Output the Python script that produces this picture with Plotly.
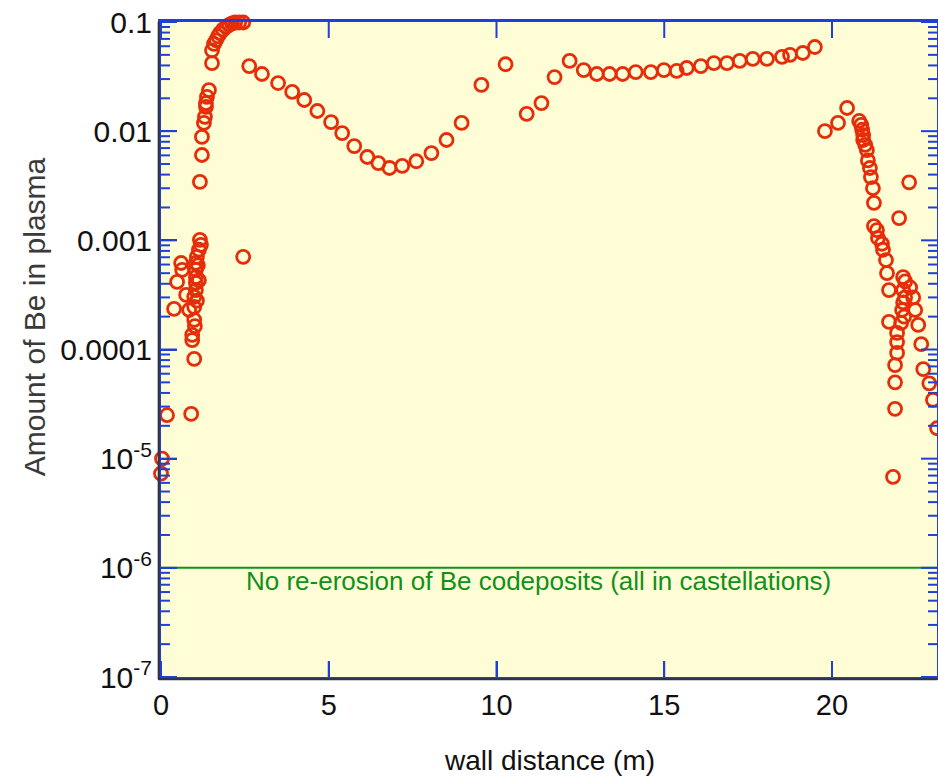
import math
import plotly.graph_objects as go

# Be amount reaching the plasma along the poloidal wall contour
wall_distance = [
    0.00, 0.03, 0.18, 0.39, 0.48, 0.60, 0.63, 0.75, 0.84, 0.93, 0.93, 0.99, 0.90,
    0.99, 0.99, 0.99, 1.04, 1.04, 1.04, 1.04, 1.04, 1.07, 1.13, 1.19, 1.16, 1.01,
    1.10, 1.13, 1.07,
    1.16, 1.22, 1.22, 1.28, 1.31, 1.34, 1.34, 1.37, 1.43, 1.52,
    1.52, 1.58, 1.64, 1.70, 1.76, 1.85, 1.94, 2.03, 2.12, 2.21, 2.33, 2.45,
    2.45,
    2.63, 3.01, 3.49, 3.91, 4.27, 4.66, 5.07, 5.40, 5.76, 6.15, 6.48, 6.81, 7.19,
    7.61, 8.06, 8.51, 8.96, 9.55, 10.27, 10.90, 11.34, 11.73, 12.18, 12.60, 12.99,
    13.37, 13.76, 14.15, 14.60, 14.99, 15.37, 15.67, 16.09, 16.48, 16.87, 17.25,
    17.64, 18.06, 18.51, 18.75, 19.13, 19.49,
    19.79, 20.18, 20.45, 20.81, 20.87, 20.90, 20.93, 20.93, 20.99, 21.04, 21.07,
    21.13, 21.16, 21.22, 21.25, 21.25, 21.34, 21.37, 21.49, 21.52, 21.61, 21.64,
    21.70, 21.70, 21.94, 21.94, 21.94, 21.88, 21.88, 21.88, 21.82,
    22.30, 22.00,
    22.12, 22.18, 22.12, 22.18, 22.12, 22.09, 22.15, 22.06,
    22.33, 22.42, 22.48, 22.57, 22.66, 22.72, 22.90, 23.01, 23.13,
]
be_amount = [
    7.3e-6, 1.0e-5, 2.5e-5, 2.36e-4, 4.16e-4, 6.2e-4, 5.36e-4, 3.16e-4, 2.3e-4,
    1.36e-4, 1.22e-4, 8.2e-5, 2.57e-5,
    1.87e-4, 2.45e-4, 3.03e-4, 3.5e-4, 4.07e-4, 4.6e-4, 5.36e-4, 6.2e-4, 7.05e-4,
    8.2e-4, 9.1e-4, 1.01e-3, 1.64e-4,
    5.9e-4, 4.3e-4, 2.8e-4,
    3.43e-3, 6.05e-3, 8.85e-3, 1.19e-2, 1.35e-2, 1.67e-2, 1.81e-2, 2.06e-2, 2.38e-2, 4.2e-2,
    5.5e-2, 6.3e-2, 6.8e-2, 7.4e-2, 7.9e-2, 8.5e-2, 9.0e-2, 9.4e-2, 9.7e-2, 9.9e-2, 9.9e-2, 9.9e-2,
    7.05e-4,
    3.95e-2, 3.34e-2, 2.76e-2, 2.29e-2, 1.93e-2, 1.53e-2, 1.21e-2, 9.6e-3, 7.3e-3,
    5.8e-3, 5.1e-3, 4.6e-3, 4.8e-3,
    5.3e-3, 6.3e-3, 8.3e-3, 1.19e-2, 2.65e-2, 4.1e-2, 1.44e-2, 1.81e-2, 3.13e-2,
    4.4e-2, 3.63e-2, 3.34e-2,
    3.34e-2, 3.34e-2, 3.48e-2, 3.48e-2, 3.63e-2, 3.56e-2, 3.79e-2, 3.95e-2, 4.2e-2,
    4.2e-2, 4.4e-2,
    4.6e-2, 4.6e-2, 4.8e-2, 5.0e-2, 5.2e-2, 5.9e-2,
    1.0e-2, 1.19e-2, 1.63e-2, 1.24e-2, 1.14e-2, 1.03e-2, 9.2e-3, 8.3e-3, 7.5e-3,
    6.7e-3, 5.4e-3,
    4.6e-3, 3.8e-3, 3.0e-3, 2.2e-3, 1.35e-3, 1.24e-3, 1.05e-3, 9.3e-4, 8.2e-4,
    6.6e-4, 5.0e-4,
    3.5e-4, 1.79e-4, 1.42e-4, 1.17e-4, 9.3e-5, 7.2e-5, 5.0e-5, 2.86e-5, 6.8e-6,
    3.4e-3, 1.6e-3,
    4.6e-4, 4.2e-4, 3.5e-4, 3.0e-4, 2.7e-4, 2.3e-4, 2.0e-4, 1.75e-4,
    3.7e-4, 3.0e-4, 2.3e-4, 1.68e-4, 1.12e-4, 6.6e-5, 4.9e-5, 3.45e-5, 1.9e-5,
]

# Axis ticks
x_ticks = [0, 5, 10, 15, 20]
y_ticks = [1e-7, 1e-6, 1e-5, 1e-4, 1e-3, 1e-2, 1e-1]
y_tick_text = ["10<sup>-7</sup>", "10<sup>-6</sup>", "10<sup>-5</sup>",
               "0.0001", "0.001", "0.01", "0.1"]
y_minor = [m * 10.0 ** e for e in range(-7, -1) for m in range(2, 10)]

threshold_label = "No re-erosion of Be codeposits (all in castellations)"

AXIS_BLUE = "#1f3fd6"
MARKER_RED = "#e62d0a"
GREEN = "#11901a"
FONT = "Liberation Sans, Arial, sans-serif"

X_RANGE = [0, 23.13]
Y_LOG_RANGE = [-7, -1]
PLOT_W, PLOT_H = 776, 655  # plot area size in pixels
MAJOR_LEN, MINOR_LEN = 16, 9

fig = go.Figure()

fig.add_trace(go.Scatter(
    x=wall_distance,
    y=be_amount,
    mode="markers",
    marker=dict(symbol="circle-open", size=13, color=MARKER_RED,
                line=dict(width=2.8, color=MARKER_RED)),
    showlegend=False,
    cliponaxis=False,
))


def y_frac(v):
    return (math.log10(v) - Y_LOG_RANGE[0]) / (Y_LOG_RANGE[1] - Y_LOG_RANGE[0])


# Inward tick marks on all four sides of the frame
tick_line = dict(color=AXIS_BLUE, width=2)
for vals, length in ((y_ticks, MAJOR_LEN), (y_minor, MINOR_LEN)):
    dx = length / PLOT_W
    for v in vals:
        f = y_frac(v)
        fig.add_shape(type="line", xref="paper", yref="paper",
                      x0=0, x1=dx, y0=f, y1=f, line=tick_line)
        fig.add_shape(type="line", xref="paper", yref="paper",
                      x0=1 - dx, x1=1, y0=f, y1=f, line=tick_line)
dy = MAJOR_LEN / PLOT_H
for v in x_ticks:
    fig.add_shape(type="line", xref="x", yref="paper",
                  x0=v, x1=v, y0=0, y1=dy, line=tick_line)
    fig.add_shape(type="line", xref="x", yref="paper",
                  x0=v, x1=v, y0=1 - dy, y1=1, line=tick_line)

# Horizontal reference level at 1e-6
fig.add_shape(type="line", xref="paper", yref="paper",
              x0=0, x1=1, y0=y_frac(1e-6), y1=y_frac(1e-6),
              line=dict(color=GREEN, width=2), layer="below")

fig.add_annotation(xref="paper", yref="paper", x=0.486, y=0.121,
                   text=threshold_label, showarrow=False,
                   font=dict(family=FONT, size=26, color=GREEN))

# Dark outer frame lines on the left and bottom
fig.add_shape(type="line", xref="paper", yref="paper",
              x0=-0.0030, x1=-0.0030, y0=-0.0035, y1=1,
              line=dict(color="#333333", width=2))
fig.add_shape(type="line", xref="paper", yref="paper",
              x0=-0.0030, x1=1, y0=-0.0035, y1=-0.0035,
              line=dict(color="#333333", width=2))

# Axis titles
fig.add_annotation(xref="paper", yref="paper", x=0.5, y=-0.128,
                   text="wall distance (m)", showarrow=False,
                   yanchor="middle",
                   font=dict(family=FONT, size=28, color="#111111"))
fig.add_annotation(xref="paper", yref="paper", x=-0.163, y=0.55,
                   text="Amount of Be in plasma", showarrow=False,
                   textangle=-90, xanchor="center", yanchor="middle",
                   font=dict(family=FONT, size=30, color="#3a3a3a"))

fig.update_xaxes(
    range=X_RANGE,
    tickmode="array", tickvals=x_ticks,
    ticks="inside", ticklen=MAJOR_LEN, tickwidth=2, tickcolor=AXIS_BLUE,
    showline=True, linecolor=AXIS_BLUE, linewidth=3, mirror=True,
    showgrid=False, zeroline=False,
    tickfont=dict(family=FONT, size=29, color="#111111"),
)
fig.update_yaxes(
    type="log", range=Y_LOG_RANGE,
    tickmode="array", tickvals=y_ticks, ticktext=y_tick_text,
    ticks="inside", ticklen=MAJOR_LEN, tickwidth=2, tickcolor=AXIS_BLUE,
    showline=True, linecolor=AXIS_BLUE, linewidth=3, mirror=True,
    showgrid=False, zeroline=False,
    tickfont=dict(family=FONT, size=30, color="#111111"),
)

fig.update_layout(
    template="none",
    width=938, height=778,
    margin=dict(l=161, r=1, t=22, b=101),
    paper_bgcolor="white",
    plot_bgcolor="#fffdd6",
    font=dict(family=FONT),
)

fig.write_html("out.html")
